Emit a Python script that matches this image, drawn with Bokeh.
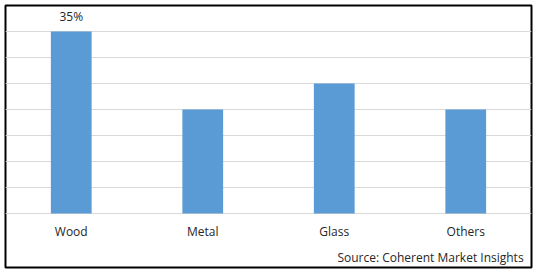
from bokeh.plotting import figure
from bokeh.models import FactorRange, Range1d, FixedTicker, Label, ColumnDataSource
from bokeh.embed import file_html
from bokeh.resources import INLINE
from bokeh.core.properties import value

categories = ["Wood", "Metal", "Glass", "Others"]
shares = [35, 20, 25, 20]
data_labels = ["35%", "", "", ""]
y_ticks = [0, 5, 10, 15, 20, 25, 30, 35]
source_note = "Source: Coherent Market Insights"

FONT = "Open Sans"

src = ColumnDataSource(dict(cat=categories, val=shares, lab=data_labels))

p = figure(width=538, height=272, output_backend="svg", toolbar_location=None,
           x_range=FactorRange(*categories, range_padding=0),
           y_range=Range1d(-10.385, 40),
           min_border_left=5, min_border_right=7, min_border_top=5, min_border_bottom=5)

p.outline_line_color = "black"
p.outline_line_width = 2
p.background_fill_color = "white"
p.border_fill_color = "white"

p.vbar(x="cat", top="val", width=0.31, source=src, fill_color="#5B9BD5", line_color=None)

p.text(x="cat", y="val", text="lab", source=src, text_align="center", text_baseline="bottom",
       y_offset=-6, text_font=value(FONT), text_font_size="12px", text_color="#262626")

p.yaxis.visible = False
p.ygrid.ticker = FixedTicker(ticks=y_ticks)
p.ygrid.grid_line_color = "#D9D9D9"
p.ygrid.grid_line_width = 1
p.xgrid.visible = False

xa = p.xaxis[0]
xa.fixed_location = 0
xa.axis_line_color = None
xa.major_tick_line_color = None
xa.minor_tick_line_color = None
xa.major_label_standoff = 4
xa.major_label_text_font = FONT
xa.major_label_text_font_size = "12px"
xa.major_label_text_color = "#262626"

p.add_layout(Label(x=3.94, y=-8.4, text=source_note, text_align="right", text_baseline="middle",
                   text_font=FONT, text_font_size="12px", text_color="#262626"))

open("out.html", "w").write(file_html(p, INLINE))
